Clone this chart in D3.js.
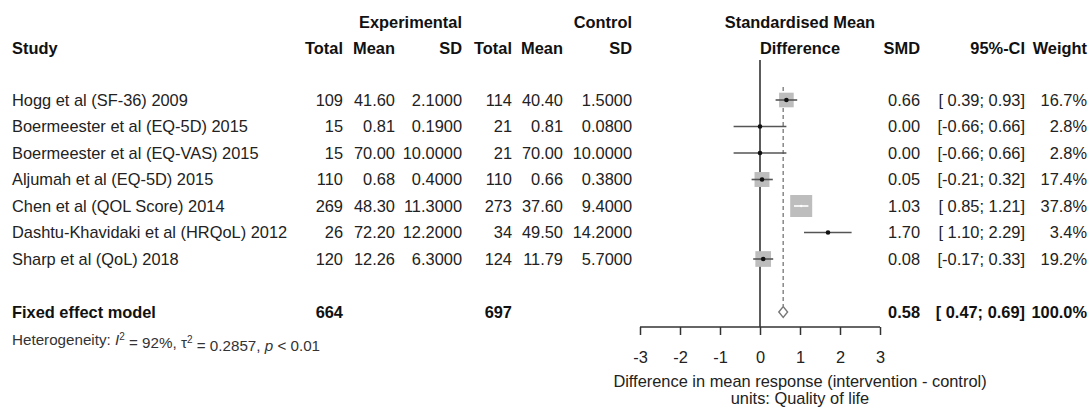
<!DOCTYPE html>
<html>
<head>
<meta charset="utf-8">
<script src="https://cdn.jsdelivr.net/npm/d3@7"></script>
<style>
  body { margin: 0; background: #fff; }
  svg text { font-family: "Liberation Sans", Arial, Helvetica, sans-serif; fill: #222; }
  .bold { font-weight: bold; fill: #111; }
</style>
</head>
<body>
<div id="chart"></div>
<script>
// study data
var studies = ["Hogg et al (SF-36) 2009", "Boermeester et al (EQ-5D) 2015", "Boermeester et al (EQ-VAS) 2015",
  "Aljumah et al (EQ-5D) 2015", "Chen et al (QOL Score) 2014", "Dashtu-Khavidaki et al (HRQoL) 2012", "Sharp et al (QoL) 2018"];
var expTotal = [109, 15, 15, 110, 269, 26, 120];
var expMean = [41.60, 0.81, 70.00, 0.68, 48.30, 72.20, 12.26];
var expSD = [2.1, 0.19, 10, 0.4, 11.3, 12.2, 6.3];
var ctlTotal = [114, 21, 21, 110, 273, 34, 124];
var ctlMean = [40.40, 0.81, 70.00, 0.66, 37.60, 49.50, 11.79];
var ctlSD = [1.5, 0.08, 10, 0.38, 9.4, 14.2, 5.7];
var smd = [0.66, 0.00, 0.00, 0.05, 1.03, 1.70, 0.08];
var ciLow = [0.39, -0.66, -0.66, -0.21, 0.85, 1.10, -0.17];
var ciHigh = [0.93, 0.66, 0.66, 0.32, 1.21, 2.29, 0.33];
var weight = [16.7, 2.8, 2.8, 17.4, 37.8, 3.4, 19.2];

var pooled = { label: "Fixed effect model", expTotal: 664, ctlTotal: 697, smd: 0.58, lo: 0.47, hi: 0.69, weight: 100.0 };
var xTicks = [-3, -2, -1, 0, 1, 2, 3];

var W = 1092, H = 412, fs = 16.4;

var svg = d3.select("#chart").append("svg").attr("width", W).attr("height", H);

var x = d3.scaleLinear().domain([-3, 3]).range([640, 880]);
var row = d3.scaleLinear().domain([0, 8]).range([100, 312]);

// column right edges
var col = { study: 12, eT: 343, eM: 395, eS: 462, cT: 512, cM: 563, cS: 632, smd: 920, ci: 1025, w: 1087 };

function txt(xp, yp, s, anchor, bold, size) {
  return svg.append("text")
    .attr("x", xp).attr("y", yp).attr("dy", "0.35em")
    .attr("text-anchor", anchor || "end")
    .attr("class", bold ? "bold" : null)
    .style("font-size", (size || fs) + "px")
    .text(s);
}

function fmtCI(lo, hi) {
  function p(v) { return (v < 0 ? "" : " ") + v.toFixed(2); }
  return "[" + p(lo) + ";" + p(hi) + "]";
}

// headers
txt(col.eS, 22, "Experimental", "end", true);
txt(col.cS, 22, "Control", "end", true);
txt(800, 22, "Standardised Mean", "middle", true);
txt(col.study, 48, "Study", "start", true);
txt(col.eT, 48, "Total", "end", true);
txt(col.eM, 48, "Mean", "end", true);
txt(col.eS, 48, "SD", "end", true);
txt(col.cT, 48, "Total", "end", true);
txt(col.cM, 48, "Mean", "end", true);
txt(col.cS, 48, "SD", "end", true);
txt(800, 48, "Difference", "middle", true);
txt(col.smd, 48, "SMD", "end", true);
txt(col.ci, 48, "95%-CI", "end", true);
txt(col.w, 48, "Weight", "end", true);

// study rows
studies.forEach(function(s, i) {
  var y = row(i);
  txt(col.study, y, s, "start");
  txt(col.eT, y, expTotal[i]);
  txt(col.eM, y, expMean[i].toFixed(2));
  txt(col.eS, y, expSD[i].toFixed(4));
  txt(col.cT, y, ctlTotal[i]);
  txt(col.cM, y, ctlMean[i].toFixed(2));
  txt(col.cS, y, ctlSD[i].toFixed(4));
  txt(col.smd, y, smd[i].toFixed(2));
  txt(col.ci, y, fmtCI(ciLow[i], ciHigh[i]));
  txt(col.w, y, weight[i].toFixed(1) + "%");
});

// pooled row
var py = row(8);
txt(col.study, py, pooled.label, "start", true);
txt(col.eT, py, pooled.expTotal, "end", true);
txt(col.cT, py, pooled.ctlTotal, "end", true);
txt(col.smd, py, pooled.smd.toFixed(2), "end", true);
txt(col.ci, py, fmtCI(pooled.lo, pooled.hi), "end", true);
txt(col.w, py, pooled.weight.toFixed(1) + "%", "end", true);

// heterogeneity line
var het = svg.append("text").attr("x", col.study).attr("y", 340).attr("dy", "0.35em")
  .style("font-size", "15.2px").style("fill", "#333");
het.append("tspan").text("Heterogeneity: ");
het.append("tspan").style("font-style", "italic").text("I");
het.append("tspan").attr("dy", "-0.5em").style("font-size", "10px").text("2");
het.append("tspan").attr("dy", "0.5em").text(" = 92%, \u03c4");
het.append("tspan").attr("dy", "-0.5em").style("font-size", "10px").text("2");
het.append("tspan").attr("dy", "0.5em").text(" = 0.2857, ");
het.append("tspan").style("font-style", "italic").text("p");
het.append("tspan").text(" < 0.01");

// reference line at 0
svg.append("line")
  .attr("x1", x(0)).attr("x2", x(0)).attr("y1", 60).attr("y2", 327)
  .attr("stroke", "#333").attr("stroke-width", 1.6);

// pooled estimate dotted line
svg.append("line")
  .attr("x1", x(pooled.smd)).attr("x2", x(pooled.smd)).attr("y1", 87).attr("y2", py - 6)
  .attr("stroke", "#888").attr("stroke-width", 1.5).attr("stroke-dasharray", "4,3");

// squares, CIs, points
var k = 22 / Math.sqrt(37.8);
studies.forEach(function(s, i) {
  var y = row(i), side = k * Math.sqrt(weight[i]);
  if (side > 8) {
    svg.append("rect")
      .attr("x", x(smd[i]) - side / 2).attr("y", y - side / 2)
      .attr("width", side).attr("height", side)
      .attr("fill", "#bdbdbd");
  }
  var inside = x(ciHigh[i]) - x(ciLow[i]) < side;
  svg.append("line")
    .attr("x1", x(ciLow[i])).attr("x2", x(ciHigh[i])).attr("y1", y).attr("y2", y)
    .attr("stroke", inside ? "#fff" : "#555").attr("stroke-width", 1.6);
  svg.append("circle")
    .attr("cx", x(smd[i])).attr("cy", y).attr("r", inside ? 1.2 : 2.3)
    .attr("fill", inside ? "#fff" : "#111");
});

// diamond
svg.append("path")
  .attr("d", "M" + x(pooled.lo) + "," + py + "L" + x(pooled.smd) + "," + (py - 5.5) +
    "L" + x(pooled.hi) + "," + py + "L" + x(pooled.smd) + "," + (py + 5.5) + "Z")
  .attr("fill", "#fff").attr("stroke", "#777").attr("stroke-width", 1.4);

// x axis
var axis = svg.append("g").attr("transform", "translate(0,327)")
  .call(d3.axisBottom(x).tickValues(xTicks).tickSize(8).tickPadding(16).tickFormat(d3.format("d")));
axis.select(".domain").attr("stroke", "#333").attr("stroke-width", 1.5).attr("d", "M" + x(-3) + ",0H" + x(3));
axis.selectAll(".tick line").attr("stroke", "#333").attr("stroke-width", 1.5);
axis.selectAll(".tick text").style("font-size", fs + "px")
  .style("font-family", "'Liberation Sans', Arial, sans-serif").attr("fill", "#222")
  .text(function(d) { return d < 0 ? "-" + Math.abs(d) : d; });

txt(800, 381, "Difference in mean response (intervention - control)", "middle");
txt(800, 398, "units: Quality of life", "middle");
</script>
</body>
</html>
